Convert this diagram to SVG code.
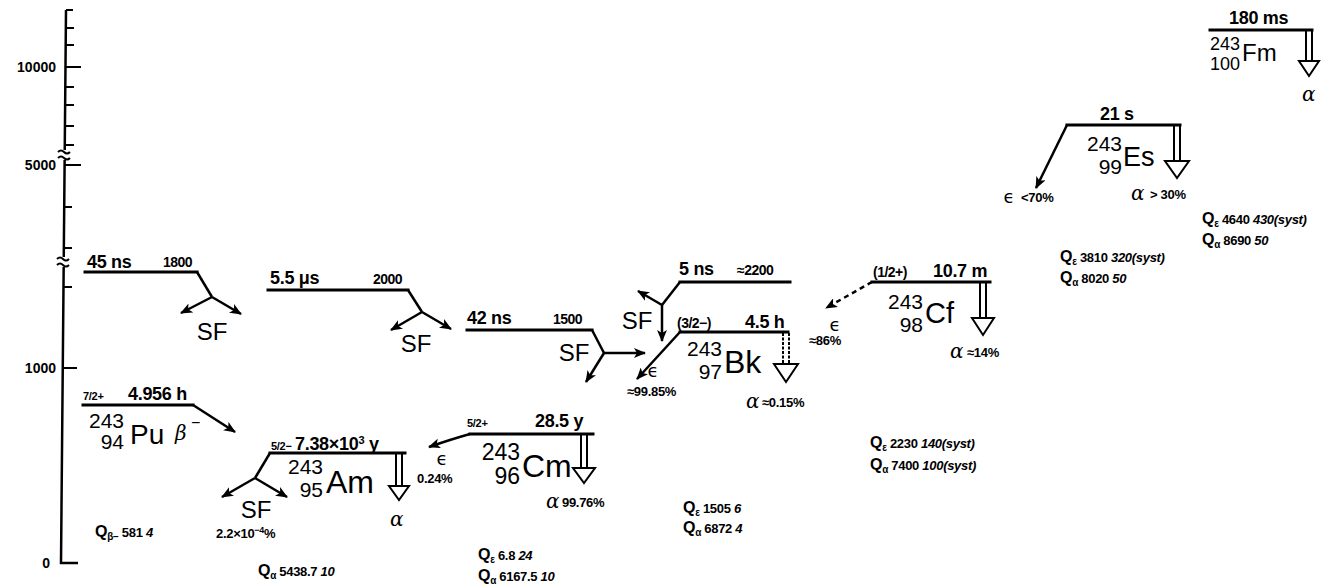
<svg xmlns="http://www.w3.org/2000/svg" width="1334" height="588" viewBox="0 0 1334 588">
<style>
text{font-family:"Liberation Sans",Arial,sans-serif;fill:#000}
.lvl{fill:none;stroke:#000;stroke-width:3;stroke-linecap:square}
.ax{fill:none;stroke:#000;stroke-width:2.5}
.tk{fill:none;stroke:#000;stroke-width:2}
.dec{fill:none;stroke:#000;stroke-width:2.5;marker-end:url(#ah)}
.line{fill:none;stroke:#000;stroke-width:2.5}
.dash{fill:none;stroke:#000;stroke-width:2.5;stroke-dasharray:5 4;marker-end:url(#ah)}
.al{fill:none;stroke:#000;stroke-width:2}
.alh{fill:#fff;stroke:#000;stroke-width:2;stroke-linejoin:miter}
.axl{font-size:14px;font-weight:bold;text-anchor:end}
.hl{font-size:18px;font-weight:bold;letter-spacing:-0.3px}
.en{font-size:14px;font-weight:bold;letter-spacing:-0.5px}
.sp{font-size:11px;font-weight:bold;letter-spacing:-0.3px}
.mass{text-anchor:end}
.sf{font-size:24px;text-anchor:middle}
.gk{font-family:"DejaVu Serif","Liberation Serif",serif;font-style:italic;font-size:20px}
.eps{font-family:"DejaVu Sans",sans-serif;font-size:18px;text-anchor:middle}
.pc{font-size:13px;font-weight:bold;letter-spacing:-0.3px}
.q{font-size:13px;font-weight:bold;letter-spacing:-0.3px}
.qq{font-size:16px;font-weight:bold}
.qs{font-size:10px;font-weight:bold}
.u{font-style:italic}
</style>
<defs>
<marker id="ah" viewBox="0 0 12 10" refX="11" refY="5" markerWidth="12" markerHeight="10" orient="auto" markerUnits="userSpaceOnUse"><path d="M0,0 L12,5 L0,10 L3,5 z" fill="#000"/></marker>
</defs>

<g id="axis">
<path class="ax" d="M66,10 L61,563 L78,563"/>
<path class="tk" d="M66,10 H73 M66,28 H74 M65,45 H74 M65,67 H81 M65,87 H74 M65,105 H74 M65,126 H74 M65,145 H74 M64,165 H81 M64,207 H72 M64,248 H72 M63,287 H72 M63,368 H77"/>
<path fill="#fff" stroke="none" d="M58,150 H70 V160 H58 Z M57,257 H69 V267 H57 Z"/>
<path class="tk" stroke-width="1.5" d="M58,152 q3,-3 6,0 t6,0 M58,158 q3,-3 6,0 t6,0 M57,259 q3,-3 6,0 t6,0 M57,265 q3,-3 6,0 t6,0"/>
<text class="axl" x="56" y="72">10000</text>
<text class="axl" x="56" y="170">5000</text>
<text class="axl" x="56" y="373">1000</text>
<text class="axl" x="50" y="568">0</text>
</g>

<g id="pu243-fi">
<path class="lvl" d="M85,272 H197"/>
<text class="hl" x="87" y="268">45 ns</text>
<text class="en" x="163" y="267">1800</text>
<text class="sf" x="212" y="340">SF</text>
</g>

<g id="pu243">
<path class="lvl" d="M83,405 H193"/>
<text class="sp" x="83" y="400">7/2+</text>
<text class="hl" x="128" y="400">4.956 h</text>
<text class="mass" x="124" y="428" font-size="21">243</text>
<text class="mass" x="124" y="449" font-size="21">94</text>
<text x="130" y="444" font-size="28">Pu</text>
<text class="gk" x="175" y="440" font-size="24">β</text>
<text x="191" y="428" font-size="16">−</text>
<text class="q" x="95" y="537"><tspan class="qq">Q</tspan><tspan class="qs" dy="3">β−</tspan><tspan dy="-3"> 581 </tspan><tspan class="u">4</tspan></text>
</g>

<g id="am243-fi1">
<path class="lvl" d="M268,290 H408"/>
<text class="hl" x="270" y="284">5.5 μs</text>
<text class="en" x="373" y="284">2000</text>
<text class="sf" x="416" y="352">SF</text>
</g>

<g id="am243-fi2">
<path class="lvl" d="M467,330 H592"/>
<text class="hl" x="467" y="324">42 ns</text>
<text class="en" x="553" y="324">1500</text>
<text class="sf" x="574" y="361">SF</text>
</g>

<g id="am243">
<path class="lvl" d="M270,453 H405"/>
<text class="sp" x="271" y="450" font-size="10">5/2−</text>
<text class="hl" x="295" y="450" font-size="17">7.38×10<tspan font-size="11" dy="-6">3</tspan><tspan dy="6"> y</tspan></text>
<text class="mass" x="323" y="474" font-size="21">243</text>
<text class="mass" x="323" y="497" font-size="21">95</text>
<text x="326" y="493" font-size="32">Am</text>
<text class="sf" x="256" y="518">SF</text>
<text class="pc" x="216" y="538">2.2×10<tspan font-size="9" dy="-5">−4</tspan><tspan dy="5">%</tspan></text>
<path class="al" d="M396,454 V486 M402,454 V486"/>
<path class="alh" d="M389,486 H409 L399,500 Z"/>
<text class="gk" x="390" y="526">α</text>
<text class="q" x="258" y="576"><tspan class="qq">Q</tspan><tspan class="qs" dy="3">α</tspan><tspan dy="-3"> 5438.7 </tspan><tspan class="u">10</tspan></text>
</g>

<g id="cm243">
<path class="lvl" d="M470,434 H593"/>
<text class="sp" x="467" y="427" font-size="13">5/2+</text>
<text class="hl" x="535" y="427">28.5 y</text>
<text class="mass" x="520" y="460" font-size="23">243</text>
<text class="mass" x="520" y="484" font-size="23">96</text>
<text x="522" y="477" font-size="32">Cm</text>
<text class="eps" x="442" y="465">ϵ</text>
<text class="pc" x="417" y="483">0.24%</text>
<path class="al" d="M581,435 V468 M587,435 V468"/>
<path class="alh" d="M573,468 H595 L584,483 Z"/>
<text class="gk" x="546" y="508">α</text>
<text class="pc" x="562" y="507">99.76%</text>
<text class="q" x="478" y="560"><tspan class="qq">Q</tspan><tspan class="qs" dy="3">ε</tspan><tspan dy="-3"> 6.8 </tspan><tspan class="u">24</tspan></text>
<text class="q" x="478" y="581"><tspan class="qq">Q</tspan><tspan class="qs" dy="3">α</tspan><tspan dy="-3"> 6167.5 </tspan><tspan class="u">10</tspan></text>
</g>

<g id="bk243-fi">
<path class="lvl" d="M680,282 H790"/>
<text class="hl" x="679" y="275">5 ns</text>
<text class="en" x="737" y="275">≈2200</text>
<text class="sf" x="637" y="329">SF</text>
</g>

<g id="bk243">
<path class="lvl" d="M680,332 H788"/>
<text class="en" x="677" y="328">(3/2−)</text>
<text class="hl" x="745" y="328">4.5 h</text>
<text class="mass" x="722" y="356" font-size="21">243</text>
<text class="mass" x="722" y="379" font-size="21">97</text>
<text x="724" y="373" font-size="32">Bk</text>
<text class="eps" x="653" y="377">ϵ</text>
<text class="pc" x="627" y="396">≈99.85%</text>
<path class="al" d="M783,333 V364 M789,333 V364" stroke-dasharray="3 1.5"/>
<path class="alh" d="M774,364 H798 L786,382 Z"/>
<text class="gk" x="746" y="408">α</text>
<text class="pc" x="762" y="407">≈0.15%</text>
<text class="q" x="683" y="513"><tspan class="qq">Q</tspan><tspan class="qs" dy="3">ε</tspan><tspan dy="-3"> 1505 </tspan><tspan class="u">6</tspan></text>
<text class="q" x="683" y="533"><tspan class="qq">Q</tspan><tspan class="qs" dy="3">α</tspan><tspan dy="-3"> 6872 </tspan><tspan class="u">4</tspan></text>
</g>

<g id="cf243">
<path class="lvl" d="M872,282 H990"/>
<text class="en" x="873" y="277" font-size="15">(1/2+)</text>
<text class="hl" x="933" y="277">10.7 m</text>
<text class="mass" x="923" y="309" font-size="21">243</text>
<text class="mass" x="923" y="332" font-size="21">98</text>
<text x="925" y="323" font-size="29">Cf</text>
<text class="eps" x="835" y="331">ϵ</text>
<text class="pc" x="809" y="345" font-size="11">≈86%</text>
<path class="al" d="M980,283 V318 M986,283 V318"/>
<path class="alh" d="M972,318 H994 L983,335 Z"/>
<text class="gk" x="950" y="358">α</text>
<text class="pc" x="967" y="357">≈14%</text>
<text class="q" x="870" y="448"><tspan class="qq">Q</tspan><tspan class="qs" dy="3">ε</tspan><tspan dy="-3"> 2230 </tspan><tspan class="u">140(syst)</tspan></text>
<text class="q" x="870" y="470"><tspan class="qq">Q</tspan><tspan class="qs" dy="3">α</tspan><tspan dy="-3"> 7400 </tspan><tspan class="u">100(syst)</tspan></text>
</g>

<g id="es243">
<path class="lvl" d="M1067,125 H1180"/>
<text class="hl" x="1100" y="120" font-size="19">21 s</text>
<text class="mass" x="1122" y="151" font-size="21">243</text>
<text class="mass" x="1122" y="174" font-size="21">99</text>
<text x="1123" y="166" font-size="27">Es</text>
<path class="al" d="M1174,126 V161 M1180,126 V161"/>
<path class="alh" d="M1165,161 H1189 L1177,178 Z"/>
<text class="eps" x="1009" y="203" font-size="17">ϵ</text>
<text class="pc" x="1021" y="202">&lt;70%</text>
<text class="gk" x="1131" y="200">α</text>
<text class="pc" x="1150" y="199">&gt; 30%</text>
<text class="q" x="1060" y="262"><tspan class="qq">Q</tspan><tspan class="qs" dy="3">ε</tspan><tspan dy="-3"> 3810 </tspan><tspan class="u">320(syst)</tspan></text>
<text class="q" x="1060" y="283"><tspan class="qq">Q</tspan><tspan class="qs" dy="3">α</tspan><tspan dy="-3"> 8020 </tspan><tspan class="u">50</tspan></text>
<text class="q" x="1202" y="224"><tspan class="qq">Q</tspan><tspan class="qs" dy="3">ε</tspan><tspan dy="-3"> 4640 </tspan><tspan class="u">430(syst)</tspan></text>
<text class="q" x="1202" y="245"><tspan class="qq">Q</tspan><tspan class="qs" dy="3">α</tspan><tspan dy="-3"> 8690 </tspan><tspan class="u">50</tspan></text>
</g>

<g id="fm243">
<path class="lvl" d="M1210,30 H1312"/>
<text class="hl" x="1229" y="24" font-size="17">180 ms</text>
<text class="mass" x="1240" y="50" font-size="18">243</text>
<text class="mass" x="1240" y="70" font-size="18">100</text>
<text x="1242" y="61" font-size="24">Fm</text>
<path class="al" d="M1306,31 V61 M1312,31 V61"/>
<path class="alh" d="M1299,61 H1319 L1309,76 Z"/>
<text class="gk" x="1302" y="101">α</text>
</g>

<g id="connectors">
<path class="line" d="M197,272 L212,297"/>
<path class="dec" d="M212,297 L181,313"/>
<path class="dec" d="M212,297 L241,314"/>
<path class="dec" d="M193,405 L235,432"/>
<path class="line" d="M408,290 L422,312"/>
<path class="dec" d="M422,312 L391,330"/>
<path class="dec" d="M422,312 L451,329"/>
<path class="line" d="M592,330 L604,353"/>
<path class="dec" d="M604,353 H645"/>
<path class="dec" d="M604,353 L586,382"/>
<path class="line" d="M270,453 L255,478"/>
<path class="dec" d="M255,478 L222,497"/>
<path class="dec" d="M255,478 L287,497"/>
<path class="dec" d="M470,434 Q452,439 429,447"/>
<path class="line" d="M680,282 L662,305"/>
<path class="dec" d="M662,305 L638,291"/>
<path class="dec" d="M662,305 V341"/>
<path class="dec" d="M680,332 L637,379"/>
<path class="dash" d="M872,282 L826,308"/>
<path class="dec" d="M1067,125 L1036,188"/>
</g>
</svg>
